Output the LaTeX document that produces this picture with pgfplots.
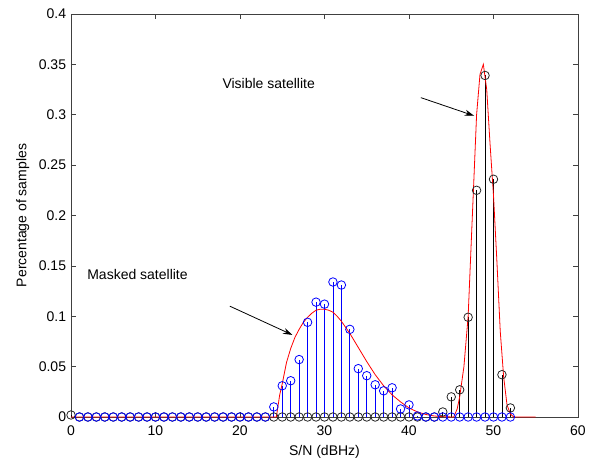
\documentclass[border=0pt]{standalone}
\usepackage{fontspec}
\setmainfont{Liberation Sans}
\usepackage{pgfplots}
\pgfplotsset{compat=1.18}
\usetikzlibrary{arrows.meta}
\begin{document}
\begin{tikzpicture}
\begin{axis}[
  scale only axis,
  width=380.25pt, height=302.25pt,
  xmin=0, xmax=60, ymin=0, ymax=0.4,
  xtick={0,10,...,60},
  ytick={0,0.05,...,0.4},
  tick align=inside,
  major tick length=4pt,
  axis line style={black!75},
  every tick/.style={black!75},
  font=\fontsize{10.5}{12}\selectfont,
  /pgf/number format/assume math mode=true,
  /pgf/number format/fixed,
  /pgf/number format/precision=2,
  xticklabel style={inner sep=0pt, yshift=-6pt, font=\fontsize{10.5}{12}\selectfont},
  yticklabel style={inner sep=0pt, xshift=-3.5pt, font=\fontsize{10.5}{12}\selectfont},
  scaled y ticks=false,
  xlabel={S/N (dBHz)},
  ylabel={Percentage of samples},
  xlabel style={at={(axis description cs:0.5,0)}, anchor=north, inner sep=0pt, yshift=-21pt},
  ylabel style={at={(axis description cs:0,0.5)}, anchor=south, inner sep=0pt, yshift=31pt},
  clip=false,
]
% visible satellite (black stems)
\addplot[ycomb, black, line width=0.6pt, mark=o, mark size=3.2pt, mark options={solid, black!85}] coordinates {
(0,0.002) (1,0) (2,0) (3,0) (4,0) (5,0) (6,0) (7,0) (8,0) (9,0) (10,0)
(11,0) (12,0) (13,0) (14,0) (15,0) (16,0) (17,0) (18,0) (19,0) (20,0)
(21,0) (22,0) (23,0) (24,0) (25,0) (26,0) (27,0) (28,0) (29,0) (30,0)
(31,0) (32,0) (33,0) (34,0) (35,0) (36,0) (37,0) (38,0) (39,0) (40,0)
(41,0) (42,0) (43,0) (44,0.005) (45,0.020) (46,0.027) (47,0.099) (48,0.225)
(49,0.339) (50,0.236) (51,0.042) (52,0.009)
};
% masked satellite (blue stems)
\addplot[ycomb, blue, line width=0.6pt, mark=o, mark size=3.2pt, mark options={solid, blue}] coordinates {
(1,0) (2,0) (3,0) (4,0) (5,0) (6,0) (7,0) (8,0) (9,0) (10,0)
(11,0) (12,0) (13,0) (14,0) (15,0) (16,0) (17,0) (18,0) (19,0) (20,0)
(21,0) (22,0) (23,0) (24,0.010) (25,0.031) (26,0.036) (27,0.057) (28,0.094)
(29,0.114) (30,0.112) (31,0.134) (32,0.131) (33,0.087) (34,0.048) (35,0.041)
(36,0.032) (37,0.026) (38,0.029) (39,0.008) (40,0.012) (41,0.001)
(42,0) (43,0) (44,0) (45,0) (46,0) (47,0) (48,0) (49,0) (50,0) (51,0) (52,0)
};
% fitted curves (red)
\addplot[red, line width=0.6pt, no marks] coordinates {
(0,0) (24.3,0) (24.7,0.022) (25,0.033) (25.5,0.054) (26,0.068) (26.5,0.079)
(27,0.087) (27.5,0.094) (28,0.099) (28.5,0.103) (29,0.106) (29.5,0.107)
(30,0.107) (30.5,0.106) (31,0.104) (31.5,0.100) (32,0.095) (33,0.083)
(34,0.069) (35,0.055) (36,0.042) (37,0.031) (38,0.022) (39,0.015)
(40,0.009) (41,0.005) (42,0.0025) (43,0.001) (44,0.0003) (45.3,0)
(45.7,0.008) (46,0.02) (46.5,0.05) (47,0.10) (47.5,0.20) (48,0.30)
(48.4,0.34) (48.8,0.35) (49.2,0.325) (49.6,0.27) (50,0.22) (50.4,0.155)
(50.8,0.085) (51.2,0.04) (51.6,0.012) (52,0.003) (52.4,0) (55,0)
};
\node[anchor=west, inner sep=0pt] at (axis cs:17.9,0.331) {Visible satellite};
\node[anchor=west, inner sep=0pt] at (axis cs:1.9,0.141) {Masked satellite};
\draw[black, line width=0.6pt, -{Stealth[length=7pt,width=4.5pt]}] (axis cs:18.8,0.110) -- (axis cs:26.2,0.0815);
\draw[black, line width=0.6pt, -{Stealth[length=7pt,width=4.5pt]}] (axis cs:41.4,0.317) -- (axis cs:47.7,0.299);
\path (axis cs:0,0) ++(-53.25pt,-33.75pt) rectangle ++(447.75pt,346.5pt);
\end{axis}
\end{tikzpicture}
\end{document}
